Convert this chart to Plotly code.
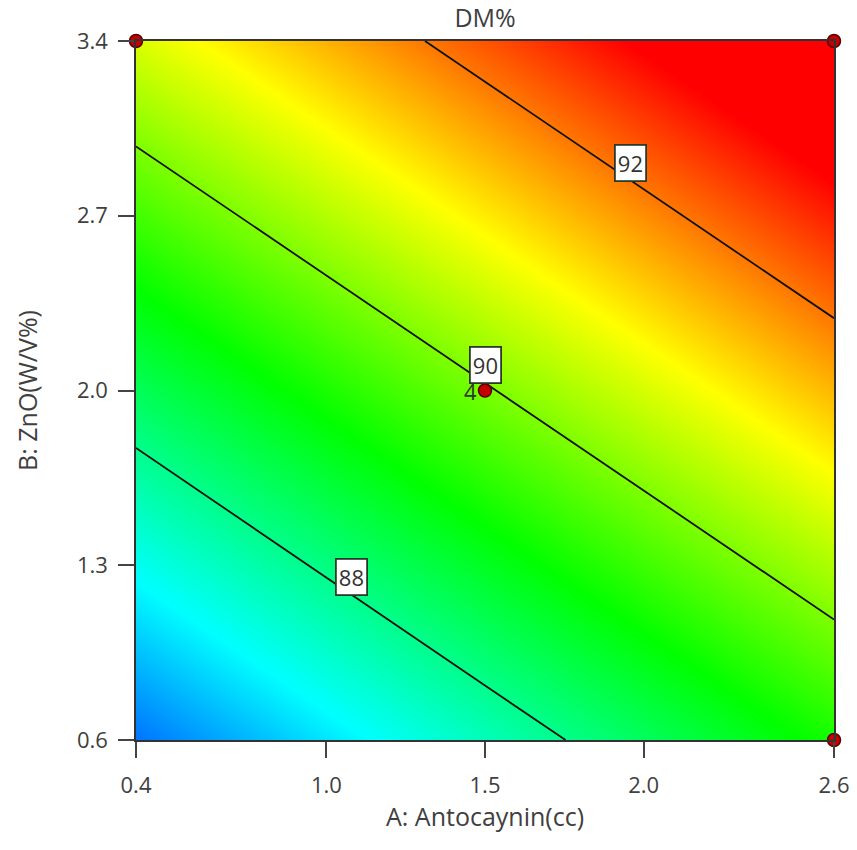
import numpy as np
import plotly.graph_objects as go

# ---- data ----
A_vals = [0.4, 1.5, 2.6]            # A: Antocaynin (cc)
B_vals = [0.6, 2.0, 3.4]            # B: ZnO (W/V%)
DM = [                               # rows follow B_vals, columns follow A_vals
    [86.07, 87.64, 89.20],
    [88.38, 89.95, 91.52],
    [90.70, 92.27, 93.84],
]
contour_levels = [88, 90, 92]
label_A = [1.08, 1.50, 1.96]         # where each contour label sits along A

design_A = [0.4, 2.6, 2.6, 1.5]
design_B = [3.4, 3.4, 0.6, 2.0]
center_reps = 4

x_ticks = [0.4, 1.0, 1.5, 2.0, 2.6]
y_ticks = [0.6, 1.3, 2.0, 2.7, 3.4]

FONT = "Open Sans"
TXT = "#404040"

colorscale = [
    [0.0, "rgb(0,0,255)"],
    [0.25, "rgb(0,255,255)"],
    [0.5, "rgb(0,255,0)"],
    [0.75, "rgb(255,255,0)"],
    [1.0, "rgb(255,0,0)"],
]

fig = go.Figure()
fig.add_trace(go.Contour(
    x=A_vals, y=B_vals, z=DM,
    colorscale=colorscale, zmin=85.2, zmax=92.9,
    showscale=False,
    autocontour=False,
    contours=dict(start=contour_levels[0], end=contour_levels[-1],
                  size=contour_levels[1] - contour_levels[0],
                  coloring="heatmap", showlabels=False),
    line=dict(color="#111111", width=1.8),
    hoverinfo="skip",
))

fig.add_trace(go.Scatter(
    x=design_A, y=design_B, mode="markers",
    marker=dict(size=13, color="#c40000", line=dict(color="#5a0000", width=1.5)),
    cliponaxis=False, hoverinfo="skip",
))

# contour labels placed on their lines (solved from the grid)
Z = np.array(DM)
for lvl, ax in zip(contour_levels, label_A):
    zcol = np.array([np.interp(ax, A_vals, row) for row in Z])
    by = float(np.interp(lvl, zcol, B_vals))
    fig.add_annotation(
        x=ax, y=by, text=str(lvl), showarrow=False, yshift=18,
        font=dict(family=FONT, size=22, color="#333333"),
        bgcolor="white", bordercolor="#2a3a2a", borderwidth=1.8, borderpad=2,
    )

# replicate count at center point
fig.add_annotation(
    x=design_A[-1], y=design_B[-1], text=str(center_reps), showarrow=False,
    xanchor="right", xshift=-6,
    font=dict(family=FONT, size=22, color="#2a3a2a"),
)

axis_common = dict(
    showgrid=False, zeroline=False, showline=True, mirror=True,
    linecolor="#333333", linewidth=1.5, automargin=False,
    ticks="outside", ticklen=16, tickwidth=1.5, tickcolor="#444444",
    tickfont=dict(family=FONT, size=22, color=TXT),
)
fig.update_xaxes(range=[A_vals[0], A_vals[-1]], tickvals=x_ticks,
                 ticktext=[f"{v:.1f}" for v in x_ticks],
                 ticklabelstandoff=9,
                 title=dict(text="A: Antocaynin(cc)", standoff=0,
                            font=dict(family=FONT, size=25, color=TXT)),
                 **axis_common)
fig.update_yaxes(range=[B_vals[0], B_vals[-1]], tickvals=y_ticks,
                 ticktext=[f"{v:.1f}" for v in y_ticks],
                 ticklabelstandoff=6,
                 title=dict(text="B: ZnO(W/V%)", standoff=32,
                            font=dict(family=FONT, size=25, color=TXT)),
                 **axis_common)

fig.update_layout(
    width=857, height=850,
    margin=dict(l=136, r=23, t=41, b=110),
    paper_bgcolor="white", plot_bgcolor="white",
    showlegend=False,
    title=dict(text="DM%", x=0.566, xanchor="center", y=0.979, yanchor="middle",
               font=dict(family=FONT, size=25, color=TXT)),
)

fig.write_html("out.html")
